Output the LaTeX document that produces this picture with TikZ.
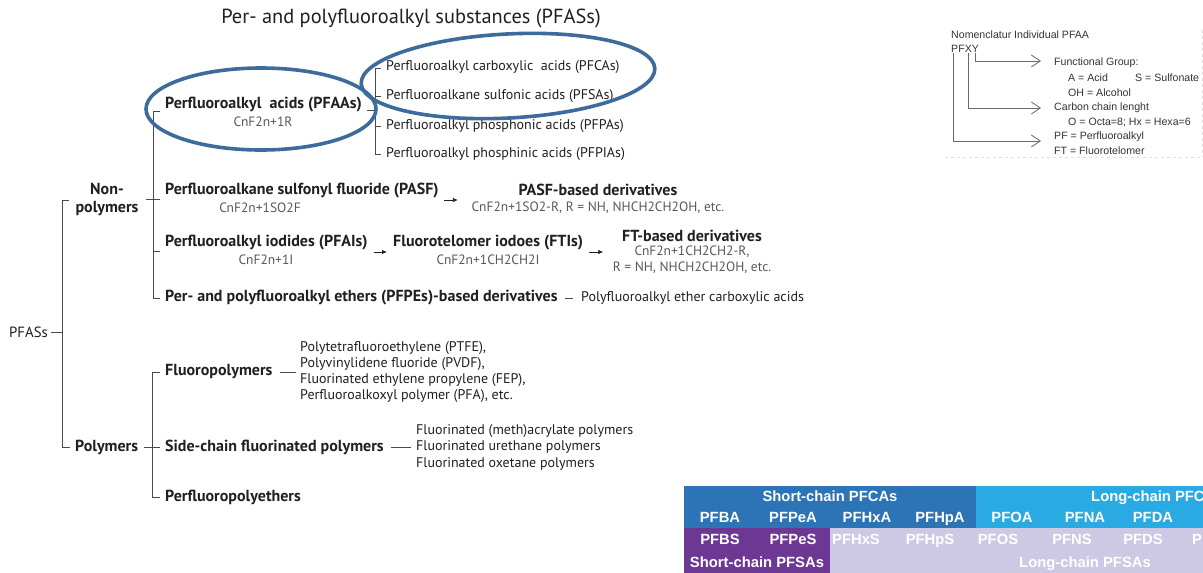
\documentclass[tikz,border=0pt]{standalone}
\usepackage{fontspec}
\setmainfont{PT Sans}
\newfontfamily\arialf{Liberation Sans}
\usetikzlibrary{arrows.meta,calc}
\definecolor{txt}{HTML}{231F20}
\definecolor{gry}{HTML}{58595B}
\definecolor{linec}{HTML}{4A4A4A}
\definecolor{ringc}{HTML}{3D6B9B}
\definecolor{nmtxt}{HTML}{333333}
\definecolor{nmln}{HTML}{6A6A6A}
\definecolor{dblue}{HTML}{2C74B5}
\definecolor{lblue}{HTML}{2AAAE2}
\definecolor{purp}{HTML}{6D3893}
\definecolor{lav}{HTML}{CDC9E4}
\tikzset{
  bt/.style={font=\fontsize{16}{18}\selectfont\bfseries, text=txt, inner sep=0pt},
  rt/.style={font=\fontsize{14}{16}\selectfont, text=txt, inner sep=0pt},
  fm/.style={font=\fontsize{13.5}{16}\selectfont, text=gry, inner sep=0pt},
  tl/.style={draw=linec, line width=0.9pt},
  ring/.style={draw=ringc, line width=3.6pt},
  nm/.style={font=\arialf\fontsize{10.6}{12}\selectfont, text=nmtxt, inner sep=0pt, anchor=west},
  nmarrow/.style={draw=nmln, line width=0.8pt, -{Straight Barb[length=9pt,width=12pt,line width=0.8pt]}},
  cell/.style={font=\arialf\bfseries\fontsize{14.8}{16}\selectfont, text=white, inner sep=0pt, anchor=base},
  sarr/.style={draw=txt, line width=0.8pt, -{Latex[length=5pt,width=4.5pt]}},
}
\begin{document}
\begin{tikzpicture}[x=1pt,y=-1pt]
\useasboundingbox (0,0) rectangle (1203,573);
\fill[white] (0,0) rectangle (1203,573);

% title
\node[font=\fontsize{20.4}{22}\selectfont, text=txt, inner sep=0pt] (title) at (411,18) {Per- and polyfluoroalkyl substances (PFASs)};

% root
\node[rt, font=\fontsize{14.8}{16}\selectfont, anchor=west] (pfass) at (9,332) {PFASs};
\coordinate (rtop) at (62,200);
\coordinate (rbot) at (62,447);
\draw[tl] ($(pfass.east)+(3,0)$) -- (62,332);
\draw[tl] ($(rtop)+(7,0)$) -- (rtop) -- (rbot) -- ($(rbot)+(8,0)$);

% non-polymers
\node[bt, align=center] (np) at (107,199) {Non-\\polymers};
\coordinate (nptop) at (153,111);
\coordinate (npbot) at (153,298);
\draw[tl] ($(nptop)+(7,0)$) -- (nptop) -- (npbot) -- ($(npbot)+(7,0)$);
\draw[tl] (146,199) -- (160,199);
\draw[tl] (153,251) -- (160,251);

% PFAAs
\node[bt, anchor=west] (pfaa) at (165,105) {Perfluoroalkyl\ \ acids (PFAAs)};
\node[fm] (pfaaf) at (263,122) {CnF2n+1R};
\coordinate (atop) at (375,68);
\coordinate (abot) at (375,154);
\draw[tl] (367,110) -- (375,110);
\draw[tl] ($(atop)+(6,0)$) -- (atop) -- (abot) -- ($(abot)+(6,0)$);
\draw[tl] (375,96) -- (381,96);
\draw[tl] (375,126) -- (381,126);
\node[rt, anchor=west] (pfca) at (386,67) {Perfluoroalkyl carboxylic\ \ acids (PFCAs)};
\node[rt, anchor=west] (pfsa) at (386,96) {Perfluoroalkane sulfonic acids (PFSAs)};
\node[rt, anchor=west] (pfpa) at (386,126) {Perfluoroalkyl phosphonic acids (PFPAs)};
\node[rt, anchor=west] (pfpia) at (386,154) {Perfluoroalkyl phosphinic acids (PFPIAs)};

% PASF
\node[bt, anchor=west] (pasf) at (165,191) {Perfluoroalkane sulfonyl fluoride (PASF)};
\node[fm] (pasff) at (260,208) {CnF2n+1SO2F};
\node[bt] (pasfd) at (598,190) {PASF-based derivatives};
\node[fm] (pasfdf) at (598,208) {CnF2n+1SO2-R, R = NH, NHCH2CH2OH, etc.};
\draw[sarr] ($(pasf.east)+(5,9)$) -- ++(14,0);

% PFAIs
\node[bt, anchor=west] (pfai) at (165,243) {Perfluoroalkyl iodides (PFAIs)};
\node[fm] (pfaif) at (266,260) {CnF2n+1I};
\node[bt, anchor=west] (fti) at (393,243) {Fluorotelomer iodoes (FTIs)};
\node[fm] (ftif) at (488,260) {CnF2n+1CH2CH2I};
\node[bt] (ftd) at (692,236) {FT-based derivatives};
\node[fm, align=center] (ftdf) at (692,260) {CnF2n+1CH2CH2-R,\\R = NH, NHCH2CH2OH, etc.};
\draw[sarr] ($(pfai.east)+(6,9)$) -- ($(fti.west)+(-6,9)$);
\draw[sarr] ($(fti.east)+(6,9)$) -- ++(14,0);

% PFPEs
\node[bt, anchor=west] (pfpe) at (165,298) {Per- and polyfluoroalkyl ethers (PFPEs)-based derivatives};
\node[rt, anchor=west] (pfpex) at (581,298) {Polyfluoroalkyl ether carboxylic acids};
\draw[tl] ($(pfpe.east)+(7,0)$) -- ($(pfpex.west)+(-8,0)$);

% polymers
\node[bt, anchor=west] (poly) at (75,447) {Polymers};
\coordinate (ptop) at (152,372);
\coordinate (pbot) at (152,497);
\draw[tl] ($(ptop)+(8,0)$) -- (ptop) -- (pbot) -- ($(pbot)+(8,0)$);
\draw[tl] (144,447) -- (160,447);

\node[bt, anchor=west] (fp) at (165,372) {Fluoropolymers};
\node[rt, anchor=west, align=left] (fpl) at (300,372) {Polytetrafluoroethylene (PTFE),\\Polyvinylidene fluoride (PVDF),\\Fluorinated ethylene propylene (FEP),\\Perfluoroalkoxyl polymer (PFA), etc.};
\draw[tl] ($(fp.east)+(7,0)$) -- ($(fpl.west)+(-4,0)$);

\node[bt, anchor=west] (scp) at (165,447) {Side-chain fluorinated polymers};
\node[rt, anchor=west, align=left, font=\fontsize{14}{16.5}\selectfont] (scpl) at (416,447) {Fluorinated (meth)acrylate polymers\\Fluorinated urethane polymers\\Fluorinated oxetane polymers};
\draw[tl] ($(scp.east)+(7,0)$) -- ($(scpl.west)+(-5,0)$);

\node[bt, anchor=west] (pfpoly) at (165,497) {Perfluoropolyethers};

% highlight rings
\draw[ring] (261,109) ellipse [x radius=115, y radius=41];
\draw[ring, rotate around={3:(508,76)}] (508,76) ellipse [x radius=147, y radius=42];

% nomenclature
\node[nm] (nom) at (951,35) {Nomenclatur Individual PFAA};
\node[nm] (pfxy) at (951,49) {PFXY};
\node[nm] (fg) at (1054,63) {Functional Group:};
\node[nm] (fga) at (1068,78) {A = Acid};
\node[nm] (fgs) at (1135,78) {S = Sulfonate};
\node[nm] (fgo) at (1068,93) {OH = Alcohol};
\node[nm] (cc) at (1054,108) {Carbon chain lenght};
\node[nm] (cco) at (1068,122) {O = Octa=8; Hx = Hexa=6};
\node[nm] (pf) at (1054,137) {PF = Perfluoroalkyl};
\node[nm] (ft) at (1054,151) {FT = Fluorotelomer};
\draw[nmarrow] ([xshift=2pt]pfxy.south west) |- ($(pf.west)+(-13,4)$);
\draw[nmarrow] ([xshift=17pt]pfxy.south west) |- ($(cc.west)+(-13,0)$);
\draw[nmarrow] ([xshift=24pt]pfxy.south west) |- ($(fg.west)+(-13,-2)$);
\draw[gray!25, dashed, line width=0.6pt] (1202,30) -- (1202,157);
\draw[gray!25, dashed, line width=0.6pt] (945,157) -- (1202,157);

% chain-length table
\begin{scope}
\clip (684,486) rectangle (1203,573);
\fill[dblue] (684,486) rectangle (976,528);
\fill[lblue] (976,486) rectangle (1300,528);
\fill[purp] (684,528) rectangle (830,573);
\fill[lav] (830,528) rectangle (1300,573);
\node[cell] (scpfca) at (830,501) {Short-chain PFCAs};
\node[cell, anchor=base west] (lcpfca) at (1091,501) {Long-chain PFC};
\node[cell] (pfba) at (720,522) {PFBA};
\node[cell] (pfpea) at (793,522) {PFPeA};
\node[cell] (pfhxa) at (867,522) {PFHxA};
\node[cell] (pfhpa) at (940,522) {PFHpA};
\node[cell] (pfoa) at (1012,522) {PFOA};
\node[cell] (pfna) at (1085,522) {PFNA};
\node[cell] (pfda) at (1153,522) {PFDA};
\node[cell] (pfbs) at (720,544) {PFBS};
\node[cell] (pfpes) at (793,544) {PFPeS};
\node[cell] (pfhxs) at (856,544) {PFHxS};
\node[cell] (pfhps) at (930,544) {PFHpS};
\node[cell] (pfos) at (998,544) {PFOS};
\node[cell] (pfns) at (1072,544) {PFNS};
\node[cell] (pfds) at (1143,544) {PFDS};
\node[cell, anchor=base west] (pfunds) at (1192,544) {P};
\node[cell] (scpfsa) at (757,567) {Short-chain PFSAs};
\node[cell] (lcpfsa) at (1085,567) {Long-chain PFSAs};
\end{scope}
\end{tikzpicture}
\end{document}
